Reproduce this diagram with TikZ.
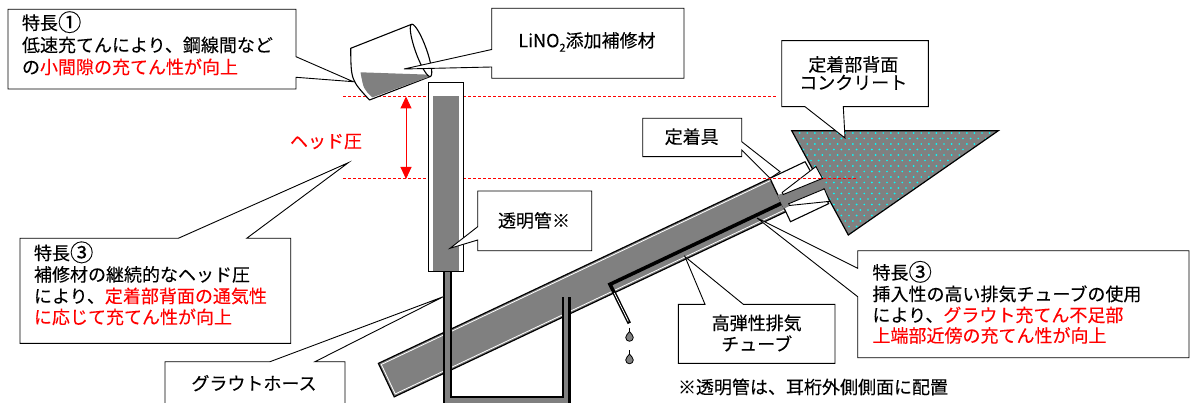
\documentclass[tikz,border=0pt]{standalone}
\usepackage{fontspec}
\setmainfont{Noto Sans CJK JP}[FakeBold=0.12]
\usetikzlibrary{arrows.meta,calc}
\definecolor{midgray}{RGB}{128,128,128}
\definecolor{accent}{RGB}{255,0,0}
\definecolor{speck}{RGB}{0,255,255}
\newcommand{\circnum}[1]{\raisebox{-0.08em}{\scalebox{1.3}{#1}}}
\begin{document}
\begin{tikzpicture}[x=1pt,y=-1pt,
  every node/.style={inner sep=0pt,outer sep=0pt},
  lbl/.style={anchor=base west,font=\fontsize{18}{21}\selectfont},
  clbl/.style={anchor=base,font=\fontsize{18}{21}\selectfont},
  balloon/.style={draw=black,fill=white,line width=0.9pt,line join=miter},
  guide/.style={draw=accent,line width=0.7pt,dash pattern=on 3pt off 2pt},
  outline/.style={draw=black,line width=1.2pt,line join=miter},
  hot/.style={text=accent}]

\fill[white] (0,0) rectangle (1190,403);
\clip (0,0) rectangle (1190,403);

% ---------- concrete behind the anchorage ----------
\coordinate (cA) at (791.7,130.7);
\coordinate (cB) at (998.3,130.7);
\coordinate (cC) at (848.3,235);
\fill[midgray] (cA)--(cB)--(cC)--cycle;
\begin{scope}
  \clip (cA)--(cB)--(cC)--cycle;
  \foreach \j in {0,...,19}{
    \foreach \i in {0,...,27}{
      \fill[speck] ({792+7.6*\i+3.8*mod(\j,2)},{133+5.5*\j}) circle[radius=0.95];
    }}
\end{scope}
\draw[outline] (cA)--(cB)--(cC)--cycle;

% label: concrete
\coordinate (tipC) at (845,138);
\draw[balloon] (781.7,40.7) -- (928.3,40.7) -- (928.3,106.7) -- (843.3,106.7)
  -- (tipC) -- (805,106.7) -- (781.7,106.7) -- cycle;
\node[clbl] (tC1) at (853.3,71.3) {定着部背面};
\node[clbl] (tC2) at (853.3,89.3) {コンクリート};

% ---------- sheath duct ----------
\begin{scope}[shift={(770,178.3)},rotate=25.3]
  \coordinate (dTL) at (-433.2,0);
  \coordinate (dTR) at (0,0);
  \coordinate (dBR) at (0,37);
  \coordinate (dBL) at (-433.2,37);
  \filldraw[fill=midgray,outline] (dTL) -- (dTR) -- (dBR) -- (dBL) -- cycle;
  \draw[white,line width=0.8pt] (0,2.2) -- (-431,2.2) -- (-431,34.8) -- (0,34.8);
  \coordinate (ex1) at (-190,27.5);
  \coordinate (ex2) at (0,27.5);
\end{scope}

% exhaust tube and dripping grout
\coordinate (ex0) at (629.3,323.3);
\draw[line width=3.6pt,line join=miter] (ex0) -- (ex1) -- (ex2);
\draw[white,line width=0.8pt] ($(ex0)!0.05!(ex1)$) -- ($(ex0)!0.78!(ex1)$);
\coordinate (dr1) at (629.5,337.5);
\coordinate (dr2) at (629.5,360);
\foreach \d in {dr1,dr2}{
  \draw[line width=1pt] ($(\d)+(0,-10)$) -- ($(\d)+(0,-6)$);
  \draw[fill=midgray,line width=0.8pt] ($(\d)+(0,-6)$)
    .. controls ($(\d)+(1.5,-3.5)$) and ($(\d)+(3.8,-2.5)$) .. ($(\d)+(3.8,0)$)
    arc[start angle=0,end angle=180,radius=3.8]
    .. controls ($(\d)+(-3.8,-2.5)$) and ($(\d)+(-1.5,-3.5)$) .. cycle;
}

% label: anchorage
\draw[balloon] (642.7,118.3) -- (741.7,118.3) -- (741.7,141.7) -- (780,171.7)
  -- (770,178.3) -- (741.7,150) -- (741.7,156.7) -- (642.7,156.7) -- cycle;
\node[clbl] (tA) at (691.7,143.5) {定着具};

% ---------- anchorage with wedges ----------
\begin{scope}[shift={(770,178.3)},rotate=25.3]
  \filldraw[fill=white,outline,line width=1.1pt] (0,0) -- (38.8,0) -- (42.2,48) -- (0,48) -- cycle;
  \fill[midgray] (-0.6,18.5) -- (46,22) -- (46,32) -- (-0.6,33.5) -- cycle;
  \filldraw[fill=white,draw=black,line width=0.9pt] (5,18) -- (46.5,9) -- (47.3,22.5) -- (5,20.3) -- cycle;
  \filldraw[fill=white,draw=black,line width=0.9pt] (6,31) -- (44.6,32.8) -- (44,46.3) -- (6,32.9) -- cycle;
\end{scope}

% ---------- head level guides ----------
\coordinate (gT1) at (343,96.3);
\coordinate (gT2) at (777,96.3);
\coordinate (gB1) at (343,178.3);
\coordinate (gB2) at (857,178.3);
\draw[guide] (gT1) -- (gT2);
\draw[guide] (gB1) -- (gB2);

% ---------- grout hose ----------
\coordinate (h0) at (447.5,271.7);
\coordinate (h1) at (447.5,400.5);
\coordinate (h2) at (566.3,400.5);
\coordinate (h3) at (566.3,296.7);
\draw[line width=8.6pt,line join=miter] (h0) -- (h1) -- (h2) -- (h3);
\draw[midgray,line width=4.2pt,line join=miter] (h0) -- (h1) -- (h2) -- (h3);

% ---------- transparent tube ----------
\filldraw[fill=white,draw=black,line width=1.1pt] (428.7,82.7) rectangle (463.3,271.7);
\fill[midgray] (432.7,96.3) rectangle (459.3,271.1);

% head pressure arrow
\coordinate (hdT) at (406,96.5);
\coordinate (hdB) at (406,179);
\draw[accent,line width=1pt,{Triangle[length=12pt,width=11pt]}-{Triangle[length=12pt,width=11pt]}] (hdT) -- (hdB);
\node[clbl,text=accent] (tH) at (326,147.8) {ヘッド圧};

% ---------- pouring cup ----------
\coordinate (cuA) at (350.7,48.3);
\coordinate (cuB) at (411.6,24.3);
\coordinate (cuD) at (430.4,76.5);
\coordinate (cuC) at (369.5,100);
\filldraw[fill=white,draw=black,line width=1.1pt,line join=round] (cuA) -- (cuB)
  -- plot[domain=0:180,samples=40,variable=\t]
     ({421+9.39*cos(180-\t)+5.18*sin(180-\t)},{50.4+26.07*cos(180-\t)-1.86*sin(180-\t)})
  -- (cuC) .. controls (351,80) .. (cuA) -- cycle;
\fill[midgray] (360.5,72.3) -- (427.2,74.6) -- (428.6,77) -- (372.4,97.4)
  .. controls (363.5,89) .. (360.5,72.3) -- cycle;
\draw[line width=1.1pt] plot[domain=180:360,samples=40,variable=\t]
     ({421+9.39*cos(\t)+5.18*sin(\t)},{50.4+26.07*cos(\t)-1.86*sin(\t)});

% ---------- callouts ----------
% feature 1
\coordinate (tip1) at (353.3,81.7);
\draw[balloon] (8,9.3) -- (296,9.3) -- (296,56.7) -- (tip1) -- (296,77.3) -- (296,89) -- (8,89) -- cycle;
\node[lbl] (f1a) at (22,29.6) {特長\circnum{①}};
\node[lbl] (f1b) at (22,51.8) {低速充てんにより、鋼線間など};
\node[lbl] (f1c) at (22,73.8) {の\textcolor{accent}{小間隙の充てん性が向上}};

% repair material
\coordinate (tipL) at (404,69);
\draw[balloon] (491.7,8.3) -- (684,8.3) -- (684,78.3) -- (491.7,78.3) -- (491.7,67) -- (tipL) -- (491.7,49.5) -- cycle;
\node[clbl] (tL) at (587,47.2) {LiNO\raisebox{-0.25em}{\fontsize{11}{11}\selectfont 2}添加補修材};

% feature 3 (head pressure)
\coordinate (tip3a) at (348.3,162.7);
\draw[balloon] (20,238.3) -- (178.3,238.3) -- (tip3a) -- (246.7,238.3) -- (290.7,238.3) -- (290.7,343.3) -- (20,343.3) -- cycle;
\node[lbl] (f3a) at (34,259.8) {特長\circnum{③}};
\node[lbl] (f3b) at (34,281.3) {補修材の継続的なヘッド圧};
\node[lbl] (f3c) at (34,302.8) {により、\textcolor{accent}{定着部背面の通気性}};
\node[lbl,hot] (f3d) at (34,323.8) {に応じて充てん性が向上};

% grout hose
\coordinate (tipG) at (443.3,296.7);
\draw[balloon] (165,361.7) -- (270,361.7) -- (tipG) -- (315,361.7) -- (345,361.7) -- (345,410) -- (165,410) -- cycle;
\node[clbl] (tG) at (254,390.1) {グラウトホース};

% transparent tube
\coordinate (tipT) at (450,248.3);
\draw[balloon] (477.7,191) -- (591.7,191) -- (591.7,250.7) -- (477.7,250.7) -- (477.7,240) -- (tipT) -- (477.7,226.7) -- cycle;
\node[clbl] (tT) at (534,227.3) {透明管※};

% exhaust tube label
\coordinate (tipE) at (685,256.7);
\draw[balloon] (678.3,304.3) -- (705,304.3) -- (tipE) -- (743.3,304.3) -- (835,304.3) -- (835,363.3) -- (678.3,363.3) -- cycle;
\node[clbl] (tE1) at (756.7,329.8) {高弾性排気};
\node[clbl] (tE2) at (756.7,350.8) {チューブ};

% feature 3 (exhaust tube)
\coordinate (tip3b) at (757,218);
\draw[balloon] (857.7,250.7) -- (1189,250.7) -- (1189,357.7) -- (857.7,357.7) -- (857.7,296.7) -- (tip3b) -- (857.7,268.3) -- cycle;
\node[lbl] (g3a) at (872.5,279.3) {特長\circnum{③}};
\node[lbl] (g3b) at (872.5,300.8) {挿入性の高い排気チューブの使用};
\node[lbl] (g3c) at (872.5,321.8) {により、\textcolor{accent}{グラウト充てん不足部}};
\node[lbl,hot] (g3d) at (872.5,342.3) {上端部近傍の充てん性が向上};

% note
\node[lbl] (note) at (678,393.8) {※透明管は、耳桁外側側面に配置};

\end{tikzpicture}
\end{document}
